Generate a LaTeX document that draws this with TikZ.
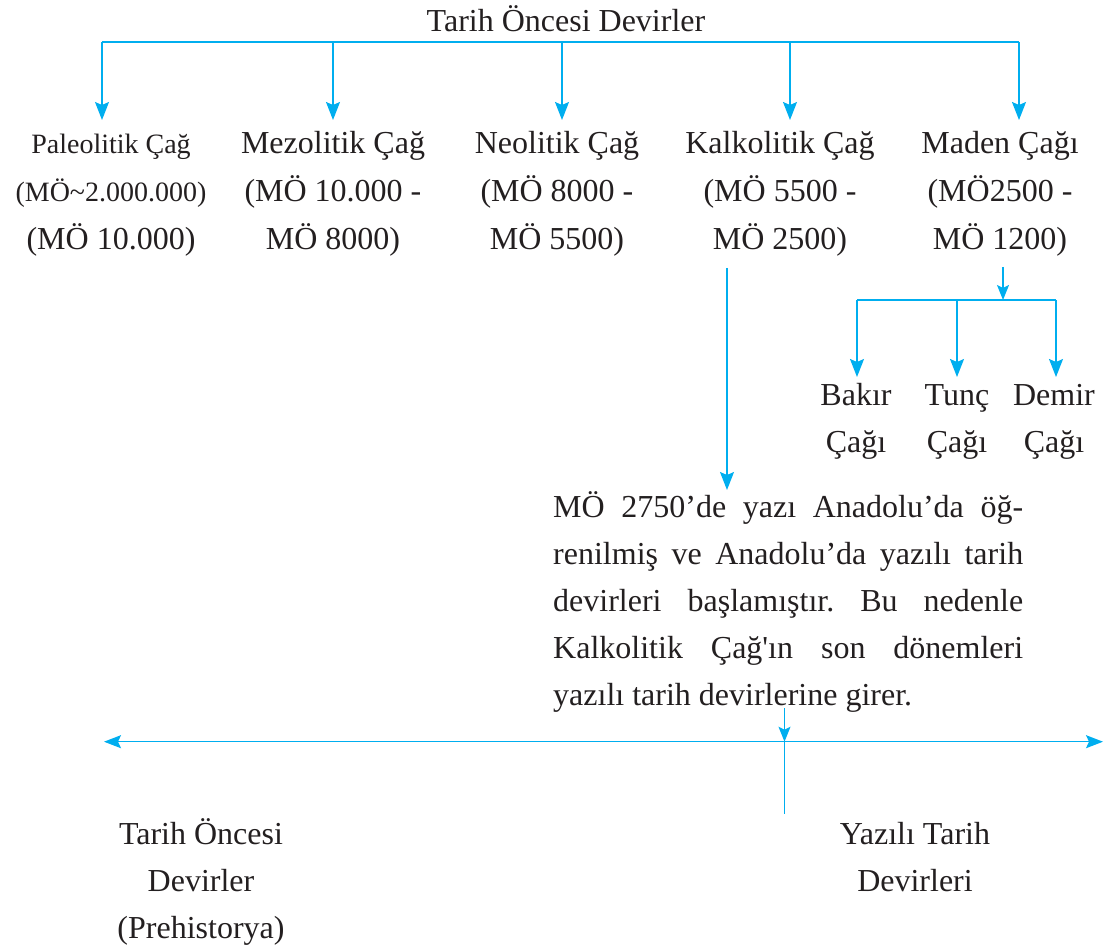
\documentclass[tikz,border=0pt]{standalone}
\usepackage{fontspec}
\setmainfont{Liberation Serif}
\frenchspacing
\usetikzlibrary{arrows.meta,positioning,calc}
\definecolor{tcyan}{HTML}{00AEEF}
\definecolor{tink}{HTML}{231F20}
\tikzset{
  link/.style={tcyan,line width=1.4pt},
  tip/.style={-{Stealth[length=18pt,width=14pt,inset=3pt]}},
  arr/.style={link,tip},
  label/.style={font=\fontsize{32}{48}\selectfont,text=tink,align=center,
    inner sep=0pt,anchor=base},
  small/.style={font=\fontsize{32}{47}\selectfont,text=tink,align=center,
    inner sep=0pt,anchor=base}
}
\newcommand{\smalltxt}[1]{{\fontsize{28}{48}\selectfont #1}}

\begin{document}
\begin{tikzpicture}[x=1pt,y=-1pt]
  \useasboundingbox (0,0) rectangle (1107,949);

  % ---- top branch ------------------------------------------------
  \node[label] (title) at (566,31.7) {Tarih Öncesi Devirler};
  \coordinate (bar) at (562,42);
  \foreach \n/\x in {paleo/102,mezo/333,neo/562,kalko/790,maden/1019}{
    \coordinate (\n-in) at (\x,120);
  }
  \draw[link] (paleo-in |- bar) -- (maden-in |- bar);
  \foreach \n in {paleo,mezo,neo,kalko,maden}{
    \draw[arr] (\n-in |- bar) -- (\n-in);
  }

  % ---- the five periods (base = last line) --------------------------
  \node[label] (paleo) at (111,250)
    {\smalltxt{Paleolitik Çağ}\\\smalltxt{(MÖ\textasciitilde 2.000.000)}\\(MÖ 10.000)};
  \node[label] (mezo)  at (333,250) {Mezolitik Çağ\\(MÖ 10.000 -\\MÖ 8000)};
  \node[label] (neo)   at (557,250) {Neolitik Çağ\\(MÖ 8000 -\\MÖ 5500)};
  \node[label] (kalko) at (780,250) {Kalkolitik Çağ\\(MÖ 5500 -\\MÖ 2500)};
  \node[label] (maden) at (1000,250) {Maden Çağı\\(MÖ2500 -\\MÖ 1200)};

  % ---- metal ages ---------------------------------------------------
  \coordinate (maden-out) at (1003,267);
  \coordinate (sub) at (1003,300);
  \foreach \n/\x in {bakir/857,tunc/957,demir/1056}{
    \coordinate (\n-in) at (\x,377);
  }
  \draw[link,-{Stealth[length=15pt,width=12pt,inset=3pt]}] (maden-out) -- (sub);
  \draw[link] (bakir-in |- sub) -- (demir-in |- sub);
  \foreach \n in {bakir,tunc,demir}{
    \draw[arr] (\n-in |- sub) -- (\n-in);
  }
  \node[small] (bakir) at (856,452)  {Bakır\\Çağı};
  \node[small] (tunc)  at (957,452)  {Tunç\\Çağı};
  \node[small] (demir) at (1054,452) {Demir\\Çağı};

  % ---- note on writing ---------------------------------------------
  \coordinate (kalko-out) at (727,268);
  \coordinate (note-in) at (727,490);
  \draw[arr] (kalko-out) -- (note-in);
  \node[small,align=left,anchor=base west] (note) at (553,705)
    {\makebox[470pt][s]{MÖ 2750’de yazı Anadolu’da öğ-}\\
     \makebox[470pt][s]{renilmiş ve Anadolu’da yazılı tarih}\\
     \makebox[470pt][s]{devirleri başlamıştır. Bu nedenle}\\
     \makebox[470pt][s]{Kalkolitik Çağ\textquotesingle ın son dönemleri}\\
     yazılı tarih devirlerine girer.};

  % ---- time line ----------------------------------------------------
  \coordinate (past) at (104,741.7);
  \coordinate (now) at (1103,741.7);
  \coordinate (split) at (784.5,741.7);
  \coordinate (split-top) at (784.5,708);
  \coordinate (split-end) at (784.5,814);
  \draw[link,{Stealth[length=17pt,width=13pt,inset=3pt]}-{Stealth[length=17pt,width=13pt,inset=3pt]}]
    (past) -- (now);
  \draw[link,-{Stealth[length=15pt,width=12pt,inset=3pt]}] (split-top) -- (split);
  \draw[link] (split) -- (split-end);

  \node[small] (prehist) at (201,938) {Tarih Öncesi\\Devirler\\(Prehistorya)};
  \node[small] (written) at (915,891) {Yazılı Tarih\\Devirleri};

\end{tikzpicture}
\end{document}
